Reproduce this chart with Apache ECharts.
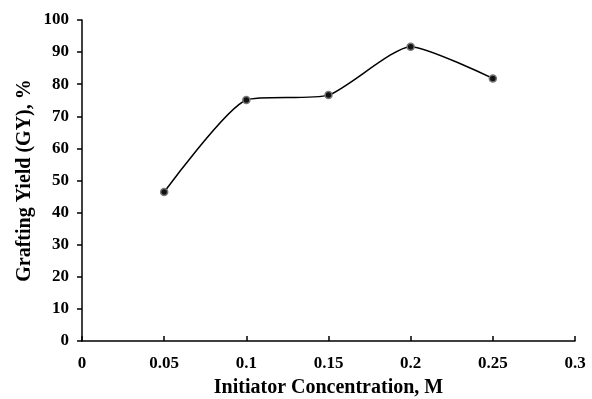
<!DOCTYPE html>
<html>
<head>
<meta charset="UTF-8">
<title>Grafting Yield</title>
<script src="https://cdn.jsdelivr.net/npm/echarts@6/dist/echarts.min.js"></script>
<style>
  body { margin: 0; background: #fff; }
  #chart { width: 592px; height: 399px; }
</style>
</head>
<body>
<div id="chart"></div>
<script>
// data
const concentration = [0.05, 0.1, 0.15, 0.2, 0.25];
const graftingYield = [46.4, 75.1, 76.6, 91.7, 81.8];

const font = 'Liberation Serif';

const chart = echarts.init(document.getElementById('chart'));
chart.setOption({
  animation: false,
  grid: { left: 82, right: 17, top: 20, bottom: 58, outerBoundsMode: 'none' },
  xAxis: {
    type: 'value',
    min: 0, max: 0.3, interval: 0.05,
    name: 'Initiator Concentration, M',
    nameLocation: 'middle',
    nameGap: 37,
    nameMoveOverlap: false,
    nameTextStyle: { fontFamily: font, fontWeight: 'bold', fontSize: 20, color: '#000' },
    axisLine: { lineStyle: { color: '#000', width: 1.5 } },
    axisTick: { inside: true, length: 5, lineStyle: { color: '#000', width: 1.5 } },
    axisLabel: {
      fontFamily: font, fontWeight: 'bold', fontSize: 17, color: '#000', margin: 14,
      formatter: v => String(+v.toFixed(2))
    },
    splitLine: { show: false }
  },
  yAxis: {
    type: 'value',
    min: 0, max: 100, interval: 10,
    name: 'Grafting Yield (GY), %',
    nameLocation: 'middle',
    nameGap: 47,
    nameMoveOverlap: false,
    nameTextStyle: { fontFamily: font, fontWeight: 'bold', fontSize: 20, color: '#000' },
    axisLine: { show: true, lineStyle: { color: '#000', width: 1.5 } },
    axisTick: { show: true, length: 5, lineStyle: { color: '#000', width: 1.5 } },
    axisLabel: { fontFamily: font, fontWeight: 'bold', fontSize: 17, color: '#000', margin: 13 },
    splitLine: { show: false }
  },
  series: [{
    type: 'line',
    data: concentration.map((x, i) => [x, graftingYield[i]]),
    smooth: 0.2,
    symbol: 'circle',
    symbolSize: 7,
    itemStyle: { color: '#111', borderColor: '#777', borderWidth: 1.5 },
    lineStyle: { color: '#000', width: 1.5 }
  }]
});
</script>
</body>
</html>
